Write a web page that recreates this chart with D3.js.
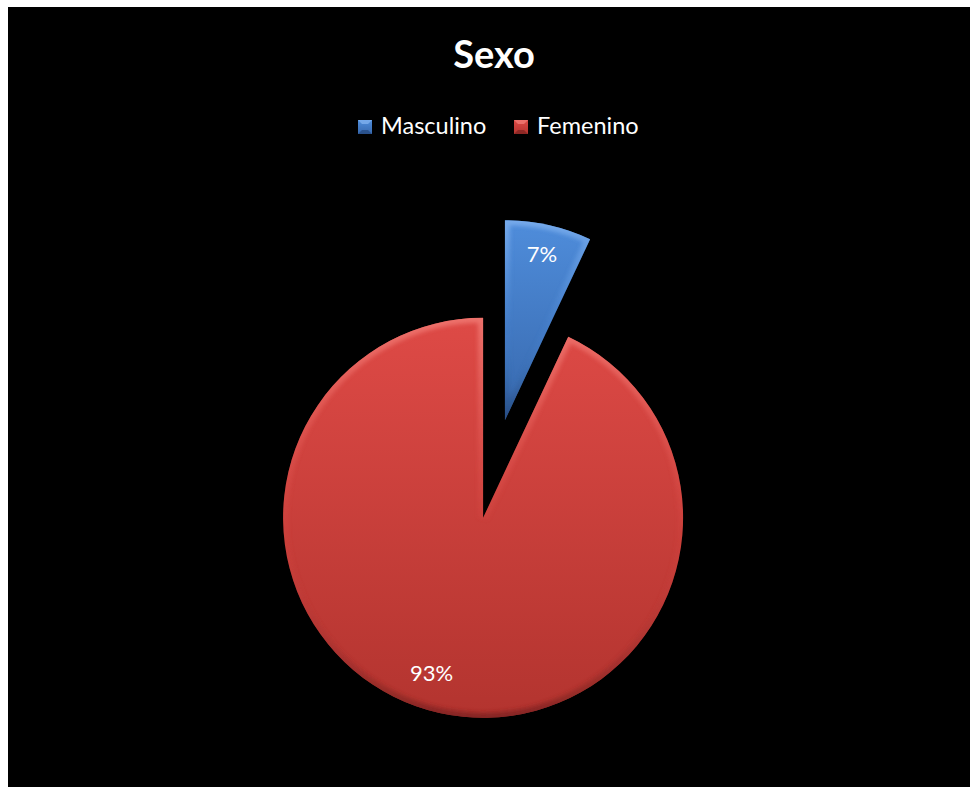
<!DOCTYPE html>
<html>
<head>
<meta charset="utf-8">
<script src="https://cdn.jsdelivr.net/npm/d3@7"></script>
<style>
  html, body { margin: 0; padding: 0; background: #ffffff; }
  svg { display: block; }
</style>
</head>
<body>
<svg id="chart" width="970" height="787"></svg>
<script>
// Chart data
const title = "Sexo";
const categories = ["Masculino", "Femenino"];
const values = [7, 93];
const labels = ["7%", "93%"];

// Styling
const W = 970, H = 787;
const colors = {
  Masculino: { top: "#4f8ddb", bottom: "#3768ad", rim: "#7fb0ee", dark: "#24467a" },
  Femenino:  { top: "#de4a46", bottom: "#b3342f", rim: "#f07a74", dark: "#7c2220" }
};
const cx = 494, cy = 469, R = 200, explode = 50;

const svg = d3.select("#chart");
const defs = svg.append("defs");

// black chart area
svg.append("rect").attr("x", 8).attr("y", 7).attr("width", W - 8).attr("height", H - 7).attr("fill", "#000");

// title
svg.append("text")
  .attr("x", 494).attr("y", 68)
  .attr("text-anchor", "middle")
  .attr("font-family", "Lato, 'Open Sans', sans-serif")
  .attr("font-weight", "bold")
  .attr("font-size", 38)
  .attr("fill", "#fff")
  .text(title);

// gradients per category
categories.forEach((c, i) => {
  const g = defs.append("linearGradient").attr("id", "fill" + i)
    .attr("x1", 0).attr("y1", 0).attr("x2", 0).attr("y2", 1);
  g.append("stop").attr("offset", "0%").attr("stop-color", colors[c].top);
  g.append("stop").attr("offset", "100%").attr("stop-color", colors[c].bottom);
  const s = defs.append("linearGradient").attr("id", "rim" + i)
    .attr("x1", 0).attr("y1", 0).attr("x2", 0).attr("y2", 1);
  s.append("stop").attr("offset", "0%").attr("stop-color", colors[c].rim);
  s.append("stop").attr("offset", "55%").attr("stop-color", colors[c].top).attr("stop-opacity", 0.2);
  s.append("stop").attr("offset", "100%").attr("stop-color", colors[c].dark);
});
defs.append("filter").attr("id", "soft")
  .append("feGaussianBlur").attr("stdDeviation", 2);

// legend
const legend = svg.append("g").attr("font-family", "Lato, 'Open Sans', sans-serif").attr("font-size", 23.5).attr("fill", "#fff");
const legendX = [358, 514];
categories.forEach((c, i) => {
  const item = legend.append("g").attr("transform", `translate(${legendX[i]},120)`);
  item.append("rect").attr("width", 14).attr("height", 14).attr("fill", `url(#fill${i})`);
  // bevelled marker facets
  item.append("path").attr("d", "M0,0L14,0L10,4L4,4Z").attr("fill", colors[c].rim).attr("opacity", 0.8);
  item.append("path").attr("d", "M0,14L14,14L10,10L4,10Z").attr("fill", colors[c].dark).attr("opacity", 0.7);
  item.append("text").attr("x", 23).attr("y", 14).text(c);
});

// pie
const pie = d3.pie().sort(null).value(d => d);
const arcs = pie(values);
const arc = d3.arc().innerRadius(0).outerRadius(R);
const labelShift = [0, 0.1];
const labelR = [0.85 * R, 0.82 * R];

const slices = svg.append("g");
arcs.forEach((a, i) => {
  const mid = (a.startAngle + a.endAngle) / 2;
  const ox = cx + explode * Math.sin(mid), oy = cy - explode * Math.cos(mid);
  const g = slices.append("g").attr("transform", `translate(${ox},${oy})`);
  const d = arc(a);
  defs.append("clipPath").attr("id", "clip" + i).append("path").attr("d", d);
  g.append("path").attr("d", d).attr("fill", `url(#fill${i})`);
  // bevel highlight along the edges
  g.append("path").attr("d", d)
    .attr("fill", "none")
    .attr("stroke", `url(#rim${i})`)
    .attr("stroke-width", 10)
    .attr("clip-path", `url(#clip${i})`)
    .attr("filter", "url(#soft)")
    .attr("opacity", 0.85);
  const la = mid + labelShift[i];
  g.append("text")
    .attr("x", labelR[i] * Math.sin(la))
    .attr("y", -labelR[i] * Math.cos(la))
    .attr("dy", "0.35em")
    .attr("text-anchor", "middle")
    .attr("font-family", "Lato, 'Open Sans', sans-serif")
    .attr("font-size", 22)
    .attr("fill", "#fff")
    .text(labels[i]);
});
</script>
</body>
</html>
